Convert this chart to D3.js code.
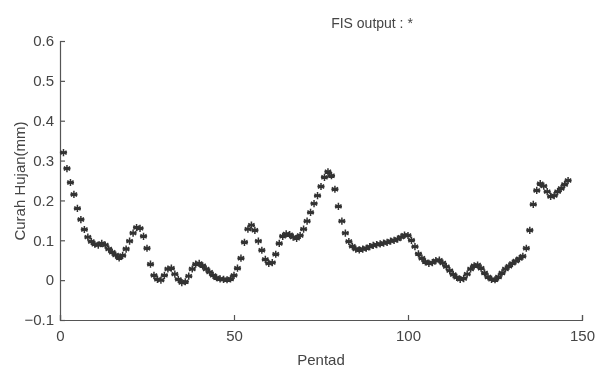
<!DOCTYPE html>
<html><head><meta charset="utf-8">
<script src="https://cdn.jsdelivr.net/npm/d3@7"></script>
<style>
body{margin:0;background:#fff;}
text{font-family:"Liberation Sans Narrow","Arial Narrow","Liberation Sans",sans-serif;fill:#444;}
</style></head>
<body><svg id="c" width="595" height="371"></svg>
<script>
const pentad = d3.range(1, 147);
const curahHujan = [
0.320,0.280,0.245,0.215,0.180,0.152,0.127,0.108,0.097,0.090,
0.088,0.092,0.088,0.078,0.070,0.063,0.056,0.062,0.078,0.098,
0.118,0.132,0.130,0.110,0.080,0.040,0.012,0.002,0.000,0.012,
0.028,0.030,0.015,0.002,-0.006,-0.004,0.010,0.028,0.040,0.042,
0.036,0.028,0.020,0.012,0.006,0.003,0.002,0.001,0.003,0.012,
0.030,0.055,0.095,0.128,0.138,0.125,0.098,0.075,0.052,0.042,
0.044,0.065,0.092,0.110,0.116,0.114,0.108,0.105,0.112,0.128,
0.148,0.170,0.192,0.212,0.235,0.258,0.272,0.262,0.228,0.185,
0.148,0.118,0.097,0.085,0.078,0.076,0.078,0.080,0.084,0.087,
0.089,0.091,0.093,0.095,0.098,0.100,0.103,0.108,0.113,0.112,
0.100,0.084,0.066,0.055,0.046,0.042,0.044,0.049,0.050,0.043,
0.034,0.024,0.014,0.007,0.002,0.004,0.015,0.028,0.036,0.038,
0.030,0.018,0.008,0.002,0.001,0.008,0.018,0.028,0.035,0.042,
0.048,0.054,0.060,0.080,0.125,0.190,0.225,0.242,0.236,0.222,
0.210,0.212,0.222,0.230,0.240,0.250];
const xTicks = [0, 50, 100, 150];
const yTicks = [-0.1, 0, 0.1, 0.2, 0.3, 0.4, 0.5, 0.6];
const titleText = "FIS output : *";
const xLabel = "Pentad";
const yLabel = "Curah Hujan(mm)";

const svg = d3.select("#c");
const x = d3.scaleLinear().domain([0, 150]).range([60, 582]);
const y = d3.scaleLinear().domain([-0.1, 0.6]).range([320, 41]);

const defs = svg.append("defs");
defs.append("filter").attr("id","bl").append("feGaussianBlur").attr("stdDeviation",0.6);

const ax = svg.append("g").attr("filter","url(#bl)");
const xa = ax.append("g").attr("transform","translate(0,320)")
  .call(d3.axisBottom(x).tickValues(xTicks).tickSize(-5).tickPadding(10).tickFormat(d3.format("d")));
const ya = ax.append("g").attr("transform","translate(60,0)")
  .call(d3.axisLeft(y).tickValues(yTicks).tickSize(-5).tickPadding(6).tickFormat(d => d === 0 ? "0" : d3.format(".1f")(d)));
[xa, ya].forEach(g => {
  g.select(".domain").attr("stroke","#555").attr("stroke-width",1.2);
  g.selectAll(".tick line").attr("stroke","#555").attr("stroke-width",1.2);
  g.selectAll("text").attr("fill","#444").style("font-size","15px").attr("font-family",null);
});

const r = 3.6;
const star = `M0,${-r}L0,${r}M${-r*0.87},${-r*0.5}L${r*0.87},${r*0.5}M${-r*0.87},${r*0.5}L${r*0.87},${-r*0.5}M${-r},0L${r},0`;
ax.append("g").selectAll("path").data(pentad).join("path")
  .attr("transform", (d,i) => `translate(${x(d)},${y(curahHujan[i])})`)
  .attr("d", star).attr("stroke","#333").attr("stroke-width",1.5).attr("fill","none");

ax.append("text").attr("x",372).attr("y",28).attr("text-anchor","middle").style("font-size","14px").text(titleText);
ax.append("text").attr("x",321).attr("y",365).attr("text-anchor","middle").style("font-size","15px").text(xLabel);
ax.append("text").attr("transform","translate(25,181) rotate(-90)").attr("text-anchor","middle").style("font-size","15px").text(yLabel);
</script></body></html>
